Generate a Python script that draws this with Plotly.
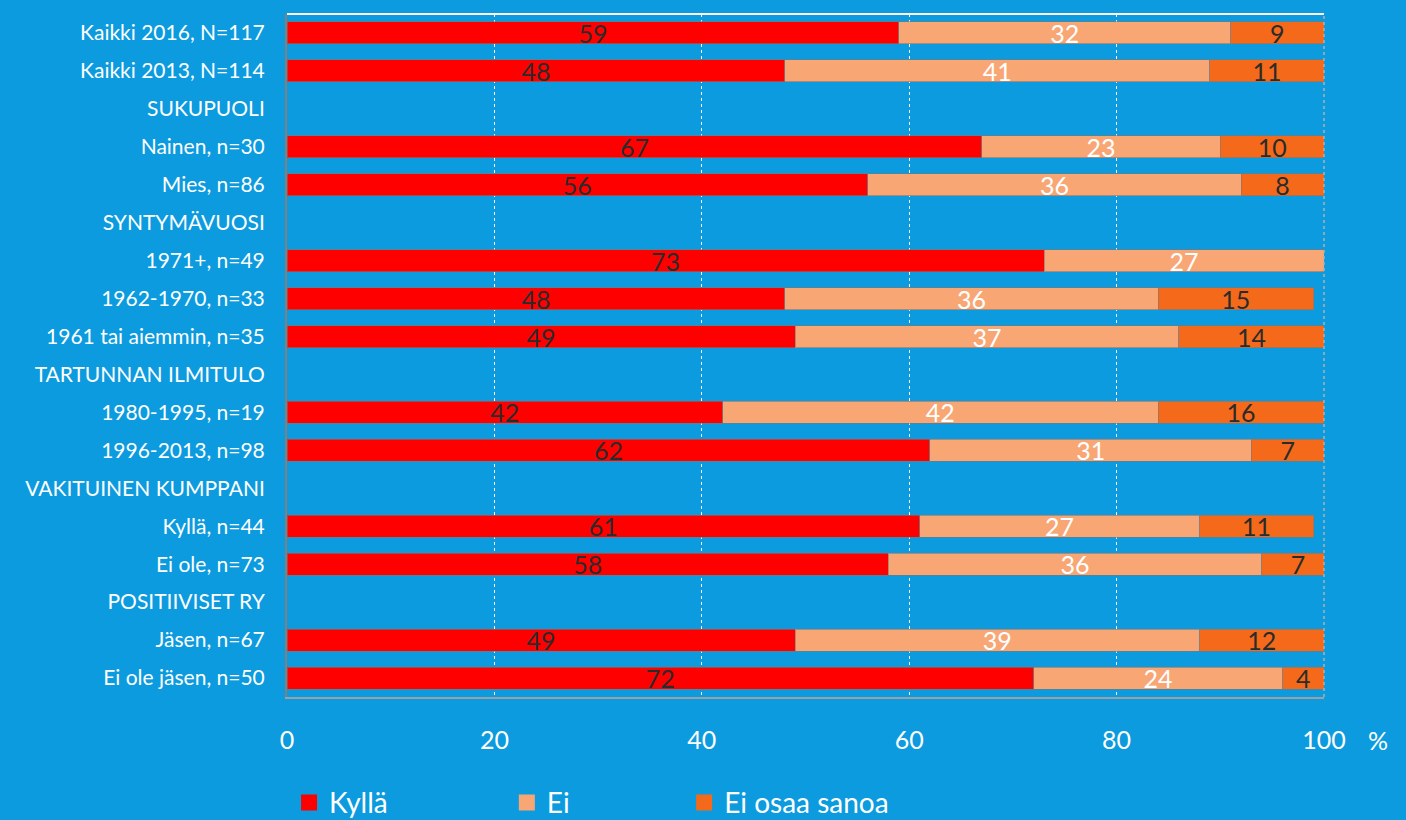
import plotly.graph_objects as go

BG_COLOR = "#0C9BDE"
SERIES_COLORS = ["#FF0000", "#F9A675", "#F46A1A"]
TEXT_COLORS = ["#2B2B2B", "#FFFFFF", "#2B2B2B"]
FONT = "Lato, 'Open Sans', sans-serif"

categories = [
    "Kaikki 2016, N=117",
    "Kaikki 2013, N=114",
    "SUKUPUOLI",
    "Nainen, n=30",
    "Mies, n=86",
    "SYNTYMÄVUOSI",
    "1971+, n=49",
    "1962-1970, n=33",
    "1961 tai aiemmin, n=35",
    "TARTUNNAN ILMITULO",
    "1980-1995, n=19",
    "1996-2013, n=98",
    "VAKITUINEN KUMPPANI",
    "Kyllä, n=44",
    "Ei ole, n=73",
    "POSITIIVISET RY",
    "Jäsen, n=67",
    "Ei ole jäsen, n=50",
]
series_names = ["Kyllä", "Ei", "Ei osaa sanoa"]
kylla = [59, 48, None, 67, 56, None, 73, 48, 49, None, 42, 62, None, 61, 58, None, 49, 72]
ei = [32, 41, None, 23, 36, None, 27, 36, 37, None, 42, 31, None, 27, 36, None, 39, 24]
ei_osaa = [9, 11, None, 10, 8, None, None, 15, 14, None, 16, 7, None, 11, 7, None, 12, 4]
x_ticks = [0, 20, 40, 60, 80, 100]

legend_x = [0.002, 0.212, 0.383]

fig = go.Figure()
for i, (name, values) in enumerate(zip(series_names, [kylla, ei, ei_osaa])):
    fig.add_trace(
        go.Bar(
            y=categories,
            x=values,
            name=name,
            orientation="h",
            marker=dict(color=SERIES_COLORS[i], line=dict(color="rgba(120,120,120,0.6)", width=1)),
            text=[str(v) if v is not None else "" for v in values],
            textposition="inside",
            insidetextanchor="middle",
            textangle=0,
            textfont=dict(color=TEXT_COLORS[i], size=25, family=FONT),
            showlegend=False,
        )
    )

# legend entries with bigger square swatches, one legend box per entry
for i, name in enumerate(series_names):
    fig.add_trace(
        go.Scatter(
            x=[None],
            y=[None],
            mode="markers",
            name=name,
            marker=dict(symbol="square", size=20, color=SERIES_COLORS[i]),
            showlegend=True,
            legend="legend" if i == 0 else f"legend{i + 1}",
        )
    )

legend_common = dict(
    orientation="h",
    yanchor="middle",
    y=-0.155,
    xanchor="left",
    font=dict(size=28, color="white", family=FONT),
    bgcolor="rgba(0,0,0,0)",
    itemwidth=30,
)

fig.update_layout(
    barmode="stack",
    bargap=0.42,
    showlegend=True,
    paper_bgcolor=BG_COLOR,
    plot_bgcolor=BG_COLOR,
    width=1406,
    height=820,
    margin=dict(l=287, r=82, t=14, b=123, autoexpand=False),
    font=dict(family=FONT, color="white"),
    uniformtext=dict(minsize=25, mode="show"),
    legend=dict(x=legend_x[0], **legend_common),
    legend2=dict(x=legend_x[1], **legend_common),
    legend3=dict(x=legend_x[2], **legend_common),
    annotations=[
        dict(
            text="%", xref="paper", yref="paper", x=1.0637, y=-0.063,
            yanchor="middle", showarrow=False,
            font=dict(size=25, color="white", family=FONT),
        )
    ],
    shapes=[
        dict(type="line", xref="paper", yref="paper", x0=0, x1=1, y0=1, y1=1,
             line=dict(color="white", width=2)),
        dict(type="line", xref="paper", yref="paper", x0=1, x1=1, y0=0, y1=1,
             line=dict(color="#B0B0B0", width=1.5, dash="dot")),
    ],
)
fig.update_xaxes(
    range=[0, 100],
    tickvals=x_ticks,
    tickfont=dict(size=25, color="white"),
    ticklabelstandoff=20,
    automargin=False,
    showgrid=True,
    gridcolor="white",
    griddash="dot",
    gridwidth=1,
    zeroline=False,
    showline=True,
    linecolor="#A0A0A0",
    linewidth=2,
)
fig.update_yaxes(
    autorange="reversed",
    tickfont=dict(size=21, color="white"),
    ticklabelstandoff=16,
    automargin=False,
    showline=True,
    linecolor="#808080",
    linewidth=2,
    showgrid=False,
)

fig.write_html(
    "out.html",
    config={"displayModeBar": False},
    post_script="document.body.style.margin = '0';",
)
